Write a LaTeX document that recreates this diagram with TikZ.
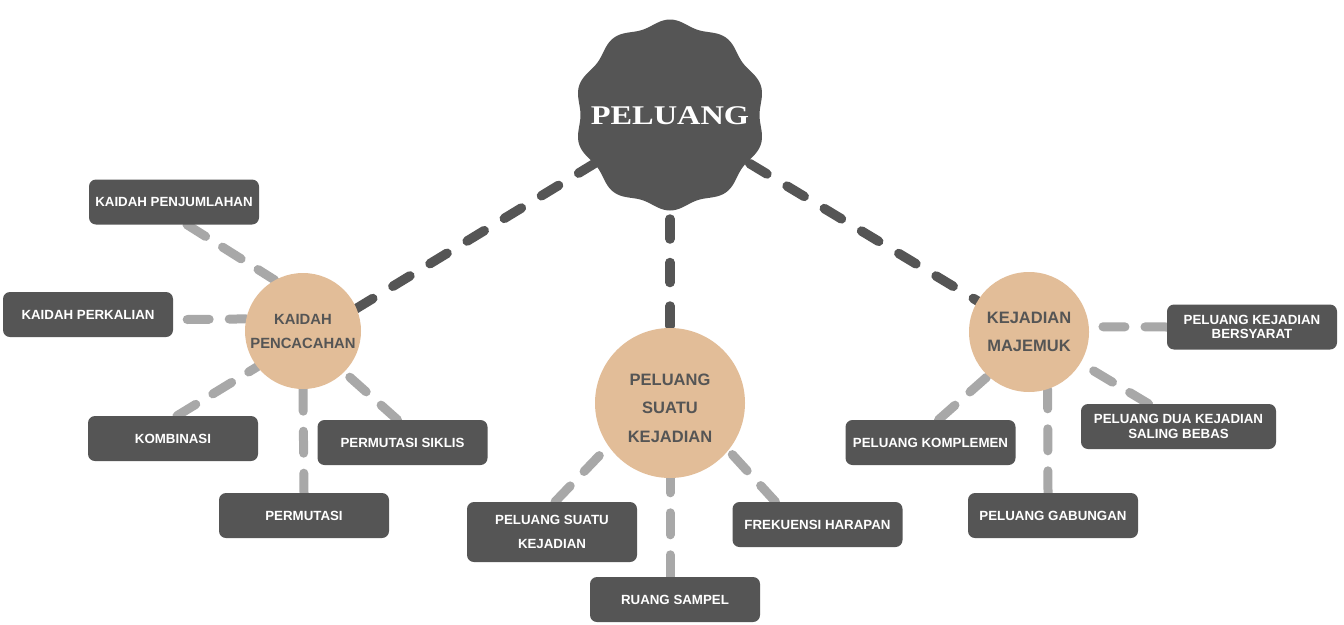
\documentclass[tikz,border=0pt]{standalone}
\usepackage{fontspec}
\usepackage{graphicx}
\setmainfont{Liberation Sans}
\newfontfamily\serifb{Liberation Serif}
\usetikzlibrary{backgrounds,calc}
\definecolor{dk}{HTML}{555555}
\definecolor{peach}{HTML}{E2BD98}
\definecolor{lg}{HTML}{A8A8A8}
\tikzset{
  box/.style={fill=dk, rounded corners=7pt, text=white,
    font=\fontsize{13.3}{15}\selectfont\bfseries, align=center,
    minimum width=170pt, minimum height=45pt, inner sep=2pt},
  hub/.style={circle, fill=peach, text=dk, align=center, inner sep=0pt},
  darkline/.style={draw=dk, line width=9.5pt, line cap=round, dash pattern=on 20pt off 23.5pt},
  greyline/.style={draw=lg, line width=9pt, line cap=round, dash pattern=on 22pt off 20pt},
}
\begin{document}
\begin{tikzpicture}[x=1pt,y=-1pt]
\useasboundingbox (0,0) rectangle (1344,624);
% central scalloped shape
\fill[dk, shift={(670,115)}] plot[smooth cycle, samples=180, domain=0:358] (\x:{92.5-3*cos(10*\x)});
\node[circle, minimum size=186pt, inner sep=0pt, text=white,
  font=\serifb\bfseries\fontsize{27}{30}\selectfont] (pel) at (670,115.5) {\scalebox{1.2}[1]{PELUANG}};
% hubs
\node[hub, minimum size=116pt, font=\fontsize{14.8}{24}\selectfont\bfseries] (kp) at (303,331) {KAIDAH\\PENCACAHAN};
\node[hub, minimum size=150pt, font=\fontsize{16.5}{28.5}\selectfont\bfseries] (ps) at (670,403) {\rule{0pt}{22pt}PELUANG\\SUATU\\KEJADIAN};
\node[hub, minimum size=120pt, font=\fontsize{16.5}{28}\selectfont\bfseries] (km) at (1029,332) {KEJADIAN\\MAJEMUK};
% boxes
\node[box] (pj) at (174,202) {KAIDAH PENJUMLAHAN};
\node[box] (pk) at (88,314.5) {KAIDAH PERKALIAN};
\node[box] (kb) at (173,438.5) {KOMBINASI};
\node[box] (sk) at (402.5,442.5) {PERMUTASI SIKLIS};
\node[box] (pm) at (304,515.5) {PERMUTASI};
\node[box, minimum height=60pt, font=\fontsize{13.3}{24}\selectfont\bfseries] (pb) at (552,532) {PELUANG SUATU\\KEJADIAN};
\node[box] (rs) at (675,599.5) {RUANG SAMPEL};
\node[box] (fh) at (817.5,524.5) {FREKUENSI HARAPAN};
\node[box] (kmp) at (930.5,442.5) {PELUANG KOMPLEMEN};
\node[box] (gb) at (1053,515.5) {PELUANG GABUNGAN};
\node[box, minimum width=195pt] (db) at (1178.5,426.5) {PELUANG DUA KEJADIAN\\SALING BEBAS};
\node[box, font=\fontsize{13.3}{14}\selectfont\bfseries] (bs) at (1252,327) {PELUANG KEJADIAN\\BERSYARAT};
% connectors
\begin{scope}[on background layer]
\fill[white] (0,0) rectangle (1344,624);
\draw[darkline] ($(pel)+(0,2)$) -- ($(kp)+(0,10)$);
\draw[darkline] ($(pel)+(0,60)$) -- (ps);
\draw[darkline] (pel) -- (km);
\draw[greyline] ($(pj.south)+(13,0)$) -- (kp.119);
\draw[greyline] ($(pk.east)+(14,5)$) -- (kp.168);
\draw[greyline] ($(kb.north)+(4,0)$) -- (kp.218);
\draw[greyline] (kp.south) -- (pm.north);
\draw[greyline] ($(sk.north)+(-5,0)$) -- (kp.-45);
\draw[greyline] ($(pb.north)+(3,0)$) -- (ps.215);
\draw[greyline] ($(rs.north)+(-5,0)$) -- (ps.south);
\draw[greyline] ($(fh.north)+(-42,0)$) -- (ps.-39);
\draw[greyline] ($(km.5)+(14,0)$) -- (bs.west);
\draw[greyline] ($(db.north)+(-30,0)$) -- (km.-31);
\draw[greyline] ($(kmp.north)+(8,0)$) -- (km.227);
\draw[greyline] ($(gb.north)+(-5,0)$) -- (km.-72);
\end{scope}
\end{tikzpicture}
\end{document}
